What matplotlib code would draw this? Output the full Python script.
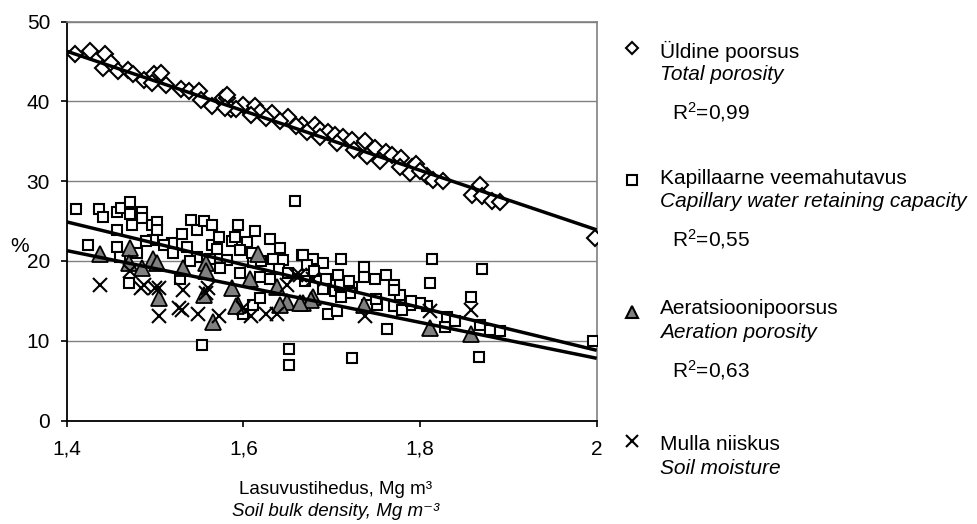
import numpy as np
import matplotlib.pyplot as plt
from matplotlib.lines import Line2D

plt.rcParams['font.family'] = ['Liberation Sans', 'DejaVu Sans']
plt.rcParams['mathtext.fontset'] = 'custom'
plt.rcParams['mathtext.rm'] = 'Liberation Sans'
plt.rcParams['mathtext.it'] = 'Liberation Sans:italic'

# total porosity (diamonds)
tp_x = [1.409, 1.426, 1.443, 1.441, 1.450, 1.458, 1.469, 1.475, 1.488, 1.499, 1.507, 1.497,
        1.512, 1.529, 1.539, 1.550, 1.552, 1.565, 1.577, 1.582, 1.586, 1.581, 1.600, 1.613,
        1.619, 1.632, 1.651, 1.666, 1.681, 1.687, 1.696, 1.704, 1.713, 1.723, 1.738, 1.749,
        1.762, 1.768, 1.779, 1.791, 1.789, 1.777, 1.755, 1.740, 1.725, 1.706, 1.687, 1.672,
        1.660, 1.641, 1.626, 1.609, 1.592, 1.579, 1.808, 1.815, 1.826, 1.868, 1.859, 1.870,
        1.881, 1.891, 1.795, 1.800, 1.998]
tp_y = [45.9, 46.3, 45.9, 44.2, 44.8, 43.8, 44.0, 43.4, 42.7, 43.4, 43.6, 42.3,
        42.1, 41.5, 41.3, 41.3, 40.2, 39.4, 40.4, 40.4, 39.0, 40.8, 39.6, 39.4,
        38.7, 38.5, 38.1, 37.1, 37.1, 36.4, 36.2, 35.8, 35.6, 35.2, 35.0, 34.2,
        33.7, 33.3, 32.9, 31.8, 31.0, 31.8, 32.5, 33.1, 33.9, 34.8, 35.6, 36.2,
        36.9, 37.5, 37.9, 38.3, 39.0, 39.2, 30.6, 30.2, 30.0, 29.5, 28.3, 28.1,
        27.5, 27.4, 32.2, 31.3, 22.9]

# capillary water retaining capacity (squares)
cap_x = [1.411, 1.437, 1.441, 1.457, 1.462, 1.472, 1.472, 1.485, 1.485, 1.496, 1.502, 1.502,
         1.457, 1.474, 1.424, 1.457, 1.470, 1.498, 1.519, 1.530, 1.541, 1.547, 1.555, 1.564,
         1.564, 1.572, 1.587, 1.594, 1.604, 1.613, 1.630, 1.641, 1.658, 1.553, 1.652, 1.652,
         1.536, 1.547, 1.562, 1.581, 1.596, 1.611, 1.634, 1.645, 1.666, 1.679, 1.672, 1.619,
         1.630, 1.596, 1.611, 1.600, 1.619, 1.528, 1.574, 1.668, 1.690, 1.711, 1.694, 1.707,
         1.736, 1.736, 1.749, 1.762, 1.770, 1.723, 1.704, 1.777, 1.813, 1.811, 1.870, 1.858,
         1.721, 1.696, 1.706, 1.751, 1.770, 1.789, 1.808, 1.763, 1.828, 1.868, 1.879, 1.891,
         1.867, 1.723, 1.996, 1.740, 1.800, 1.709, 1.46, 1.48, 1.49, 1.51, 1.52, 1.54,
         1.57, 1.59, 1.61, 1.62, 1.64, 1.65, 1.67, 1.68, 1.69, 1.71, 1.72, 1.75,
         1.77, 1.78, 1.79, 1.83, 1.84]
cap_y = [26.5, 26.5, 25.5, 26.2, 26.6, 27.4, 25.9, 26.1, 25.4, 24.5, 24.9, 23.9,
         23.9, 24.5, 22.0, 21.7, 17.2, 22.6, 22.2, 23.4, 25.2, 23.9, 25.0, 24.5,
         22.0, 23.0, 22.5, 24.5, 22.4, 23.7, 22.8, 21.6, 27.5, 9.5, 9.0, 7.0,
         21.8, 20.5, 20.3, 20.1, 21.4, 19.9, 20.3, 20.1, 20.7, 20.3, 19.5, 18.0,
         17.8, 18.5, 14.5, 13.3, 15.3, 17.8, 19.1, 20.7, 19.7, 20.3, 17.8, 18.2,
         19.3, 18.0, 17.8, 18.2, 17.0, 16.8, 16.2, 15.7, 20.2, 17.2, 19.0, 15.5,
         16.0, 13.3, 13.7, 14.5, 14.3, 14.5, 14.3, 11.5, 11.7, 12.0, 11.4, 11.2,
         8.0, 7.8, 10.0, 14.5, 14.7, 17.0, 20.5, 21.0, 22.5, 22.0, 21.0, 20.0,
         21.5, 23.0, 21.0, 20.0, 19.0, 18.5, 17.5, 18.8, 16.5, 15.5, 17.5, 15.2,
         16.3, 13.8, 15.0, 13.0, 12.5]

# aeration porosity (triangles)
aer_x = [1.438, 1.472, 1.470, 1.485, 1.498, 1.502, 1.504, 1.532, 1.558, 1.558, 1.555, 1.566,
         1.587, 1.594, 1.608, 1.617, 1.638, 1.649, 1.668, 1.679, 1.677, 1.736, 1.811, 1.858,
         1.592, 1.641, 1.664]
aer_y = [20.9, 21.6, 19.7, 19.1, 20.3, 19.7, 15.3, 19.1, 19.7, 18.7, 15.7, 12.4,
         16.6, 14.5, 17.8, 20.9, 16.8, 14.9, 14.7, 15.5, 15.1, 14.5, 11.6, 10.8,
         14.3, 14.5, 14.7]

# soil moisture (crosses)
sm_x = [1.438, 1.472, 1.487, 1.500, 1.504, 1.532, 1.530, 1.549, 1.560, 1.558, 1.572, 1.600,
        1.609, 1.626, 1.638, 1.649, 1.660, 1.738, 1.858, 1.811, 1.679, 1.664, 1.505, 1.527,
        1.484]
sm_y = [17.0, 18.7, 17.0, 16.6, 13.1, 16.4, 13.9, 13.3, 16.6, 16.0, 13.1, 14.1,
        13.1, 13.3, 13.3, 17.0, 18.2, 13.1, 13.9, 13.7, 17.8, 18.2, 16.6, 14.1,
        16.6]

# trend line end values at x = 1.4 and x = 2
trend_x = [1.4, 2.0]
tp_trend = [46.3, 23.9]
cap_trend = [24.9, 8.8]
aer_trend = [21.3, 7.8]

x_ticks = [1.4, 1.6, 1.8, 2.0]
x_tick_labels = ['1,4', '1,6', '1,8', '2']
y_ticks = [0, 10, 20, 30, 40, 50]

W, H = 977, 524
fig = plt.figure(figsize=(W / 100, H / 100), dpi=100)
ax = fig.add_axes([66.7 / W, 1 - 420.5 / H, 530 / W, 398.8 / H])

ax.plot(tp_x, tp_y, 'D', ms=8, mfc='white', mec='black', mew=1.5, zorder=3)
ax.plot(cap_x, cap_y, 's', ms=7.5, mfc='white', mec='black', mew=1.5, zorder=3)
ax.plot(aer_x, aer_y, '^', ms=12, mfc='#808080', mec='black', mew=1.3, zorder=4)
ax.plot(sm_x, sm_y, 'x', ms=10, mec='black', mew=1.5, zorder=5)

for t in (tp_trend, cap_trend, aer_trend):
    ax.plot(trend_x, t, color='black', lw=2.5, zorder=6, solid_capstyle='butt')

ax.set_xlim(1.4, 2.0)
ax.set_ylim(0, 50)
ax.set_xticks(x_ticks)
ax.set_xticklabels(x_tick_labels)
ax.set_yticks(y_ticks)
ax.tick_params(labelsize=15, direction='out', length=4, width=1.2)
ax.tick_params(axis='x', pad=10)
ax.tick_params(axis='y', pad=8)
ax.grid(axis='y', color='#808080', lw=1)
ax.set_axisbelow(True)
for s in ('left', 'bottom'):
    ax.spines[s].set_color('black')
    ax.spines[s].set_linewidth(1.3)
for s in ('top', 'right'):
    ax.spines[s].set_color('#808080')
    ax.spines[s].set_linewidth(1.2)

fs = 15
fig.text(20 / W, 1 - 247 / H, '%', fontsize=fs, ha='center', va='center')
fig.text(336 / W, 1 - 490 / H, 'Lasuvustihedus, Mg m³', fontsize=13.5, ha='center', va='center')
fig.text(336 / W, 1 - 512 / H, 'Soil bulk density, Mg m⁻³', fontsize=13.5,
         style='italic', ha='center', va='center')

# legend, drawn by hand
mx = 631.7
leg = [
    ('D', 6, 'white', 48, 'Üldine poorsus', 'Total porosity', 'R$^2$=0,99', 51),
    ('s', 6.5, 'white', 180, 'Kapillaarne veemahutavus', 'Capillary water retaining capacity', 'R$^2$=0,55', 178),
    ('^', 8, '#808080', 312, 'Aeratsioonipoorsus', 'Aeration porosity', 'R$^2$=0,63', 309),
    ('x', 8, 'black', 441, 'Mulla niiskus', 'Soil moisture', None, 445),
]
for m, ms, fc, my, et, en, r2, ty in leg:
    fig.add_artist(Line2D([mx / W], [1 - my / H], marker=m, ms=ms, mfc=fc, mec='black',
                          mew=1.5, linestyle='none'))
    fig.text(660 / W, 1 - ty / H, et, fontsize=fs, ha='left', va='center')
    fig.text(660 / W, 1 - (ty + 24) / H, en, fontsize=fs, style='italic', ha='left', va='center')
    if r2:
        fig.text(672 / W, 1 - (ty + 61) / H, r2, fontsize=fs, ha='left', va='center')

fig.savefig('out.png', dpi=100)
